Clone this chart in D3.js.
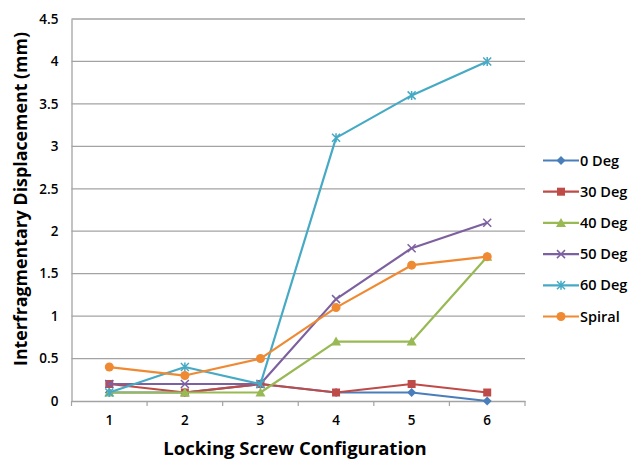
<!DOCTYPE html>
<html><head><meta charset="utf-8">
<script src="https://cdn.jsdelivr.net/npm/d3@7"></script>
<style>body{margin:0;background:#fff}svg{display:block}text{font-family:"Open Sans",sans-serif;fill:#000}</style>
</head><body>
<svg id="c" width="633" height="459"></svg>
<script>
const categories = ["1","2","3","4","5","6"];
const seriesNames = ["0 Deg","30 Deg","40 Deg","50 Deg","60 Deg","Spiral"];
const deg0   = [0.1, 0.1, 0.2, 0.1, 0.1, 0];
const deg30  = [0.2, 0.1, 0.2, 0.1, 0.2, 0.1];
const deg40  = [0.1, 0.1, 0.1, 0.7, 0.7, 1.7];
const deg50  = [0.2, 0.2, 0.2, 1.2, 1.8, 2.1];
const deg60  = [0.1, 0.4, 0.2, 3.1, 3.6, 4.0];
const spiral = [0.4, 0.3, 0.5, 1.1, 1.6, 1.7];
const yTicks = [0,0.5,1,1.5,2,2.5,3,3.5,4,4.5];
const yTickLabels = ["0","0.5","1","1.5","2","2.5","3","3.5","4","4.5"];

const colors = ["#4A7EBB","#BE4B48","#98B954","#7D60A0","#46AAC5","#EF8A33"];
const markers = ["diamond","square","triangle","x","star","circle"];
const allSeries = [deg0,deg30,deg40,deg50,deg60,spiral];

const svg = d3.select("#c");
const L=71.5, R=525, T=19, B=401;
const x = d3.scaleBand().domain(categories).range([L,R]);
const y = d3.scaleLinear().domain([0,4.5]).range([B,T]);

// gridlines
svg.append("g").selectAll("line").data(yTicks.filter(d=>d>0)).join("line")
  .attr("x1",L).attr("x2",R).attr("y1",d=>y(d)).attr("y2",d=>y(d))
  .attr("stroke","#a3a3a3").attr("stroke-width",1.3);

// y axis
const ya = svg.append("g").attr("transform",`translate(${L},0)`)
  .call(d3.axisLeft(y).tickValues(yTicks).tickFormat((d,i)=>yTickLabels[i]).tickSize(0).tickPadding(13));
ya.select(".domain").attr("stroke","#a3a3a3").attr("stroke-width",1.3);
ya.selectAll("text").attr("font-size",13.5).attr("font-weight",600).attr("font-family","Open Sans").attr("fill","#222");

// x axis
const xa = svg.append("g").attr("transform",`translate(0,${B})`)
  .call(d3.axisBottom(x).tickSize(0).tickPadding(14));
xa.select(".domain").attr("stroke","#a3a3a3").attr("stroke-width",1.3);
xa.selectAll("text").attr("font-size",13.5).attr("font-weight",600).attr("font-family","Open Sans").attr("fill","#222");
// boundary ticks
const bounds = categories.map(c=>x(c)).concat([x(categories[5])+x.bandwidth()]);
svg.append("g").selectAll("line").data(bounds).join("line")
  .attr("x1",d=>d).attr("x2",d=>d).attr("y1",B).attr("y2",B+5)
  .attr("stroke","#a3a3a3").attr("stroke-width",1.2);

const cx = c => x(c)+x.bandwidth()/2;
const line = d3.line().x((d,i)=>cx(categories[i])).y(d=>y(d));

function drawMarker(g, type, col, px, py, s){
  s = s||1;
  if(type==="diamond"){
    g.append("path").attr("d",`M${px},${py-4.5*s}L${px+4.5*s},${py}L${px},${py+4.5*s}L${px-4.5*s},${py}Z`).attr("fill",col);
  } else if(type==="square"){
    g.append("rect").attr("x",px-4*s).attr("y",py-4*s).attr("width",8*s).attr("height",8*s).attr("fill",col);
  } else if(type==="triangle"){
    g.append("path").attr("d",`M${px},${py-5*s}L${px+5*s},${py+4*s}L${px-5*s},${py+4*s}Z`).attr("fill",col);
  } else if(type==="x"){
    g.append("path").attr("d",`M${px-4*s},${py-4*s}L${px+4*s},${py+4*s}M${px+4*s},${py-4*s}L${px-4*s},${py+4*s}`).attr("stroke",col).attr("stroke-width",1.5).attr("fill","none");
  } else if(type==="star"){
    g.append("path").attr("d",`M${px-4*s},${py-4*s}L${px+4*s},${py+4*s}M${px+4*s},${py-4*s}L${px-4*s},${py+4*s}M${px},${py-4.5*s}L${px},${py+4.5*s}`).attr("stroke",col).attr("stroke-width",1.5).attr("fill","none");
  } else {
    g.append("circle").attr("cx",px).attr("cy",py).attr("r",4.5*s).attr("fill",col);
  }
}

allSeries.forEach((vals,si)=>{
  const g = svg.append("g");
  g.append("path").datum(vals).attr("d",line).attr("fill","none")
    .attr("stroke",colors[si]).attr("stroke-width",2.2).attr("stroke-linejoin","round");
  vals.forEach((v,i)=>drawMarker(g, markers[si], colors[si], cx(categories[i]), y(v)));
});

// legend
const lg = svg.append("g");
seriesNames.forEach((n,i)=>{
  const ly = 160.5 + i*31.2;
  lg.append("line").attr("x1",543).attr("x2",579).attr("y1",ly).attr("y2",ly)
    .attr("stroke",colors[i]).attr("stroke-width",2.2);
  drawMarker(lg, markers[i], colors[i], 561, ly);
  lg.append("text").attr("x",580).attr("y",ly).attr("dy","0.35em")
    .attr("font-size",14.5).attr("font-weight",600).attr("fill","#222").text(n);
});

// titles
svg.append("text").attr("x",295).attr("y",455).attr("text-anchor","middle")
  .attr("font-size",18.5).attr("font-weight",700).attr("fill","#222").text("Locking Screw Configuration");
svg.append("text").attr("transform","translate(27,199) rotate(-90)").attr("text-anchor","middle")
  .attr("font-size",17.8).attr("font-weight",700).attr("fill","#222").text("Interfragmentary Displacement (mm)");
</script>
</body></html>
